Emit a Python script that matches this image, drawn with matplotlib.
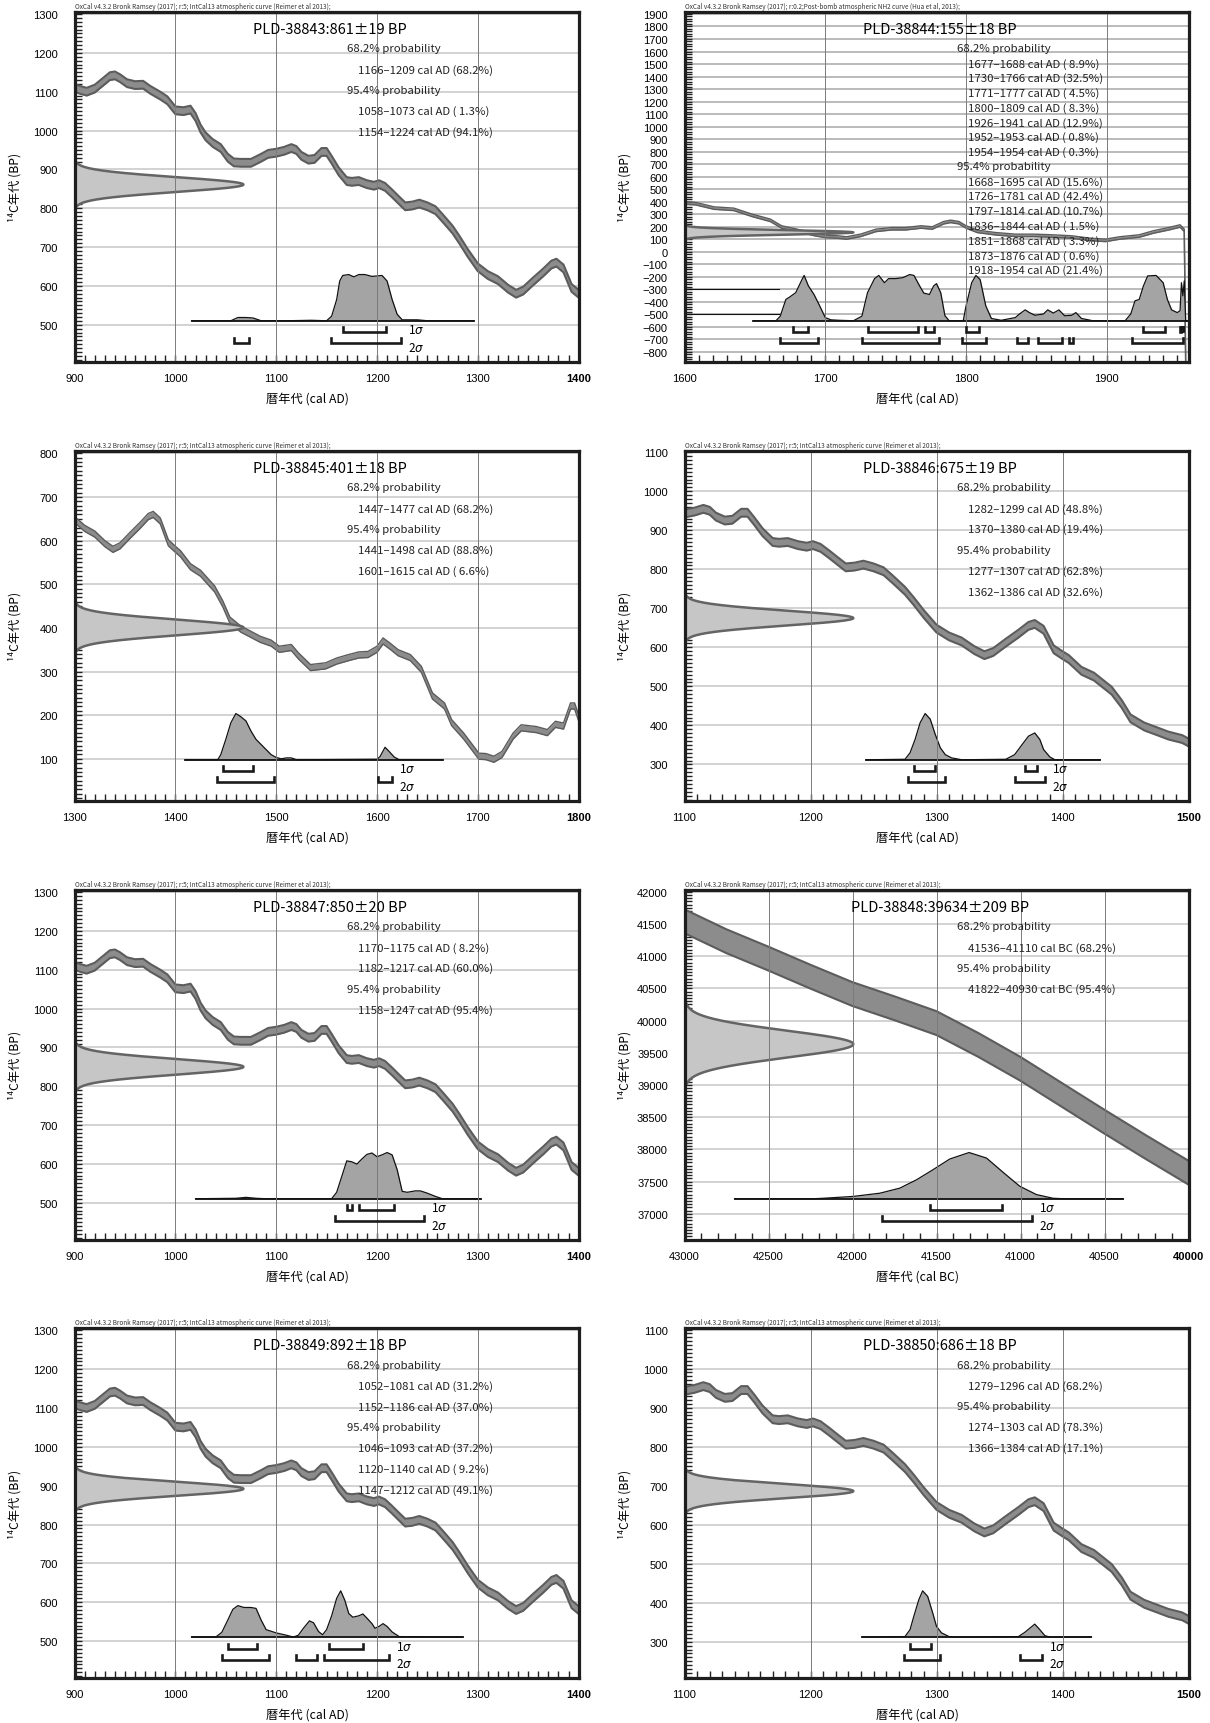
import numpy as np
import matplotlib
matplotlib.use('Agg')
import matplotlib.pyplot as plt

plt.rcParams['font.family'] = ['Noto Sans CJK JP', 'DejaVu Sans']

#Calibration curves (centre values)

#IntCal13, AD 900-1800
intcal_year = [900, 905, 912, 920, 928, 935, 940, 945, 952, 960, 968, 975, 985, 992,
               1000, 1008, 1015, 1020, 1025, 1030, 1037, 1045, 1052, 1058, 1065, 1075,
               1085, 1092, 1100, 1108, 1115, 1120, 1125, 1132, 1138, 1145, 1150, 1155,
               1162, 1170, 1175, 1182, 1190, 1197, 1202, 1208, 1215, 1222, 1228, 1235,
               1242, 1250, 1258, 1265, 1275, 1282, 1290, 1300, 1310, 1320, 1330, 1338,
               1345, 1355, 1365, 1373, 1378, 1385, 1393, 1400, 1405, 1415, 1425, 1439,
               1447, 1454, 1465, 1475, 1484, 1495, 1503, 1515, 1522, 1534, 1549, 1560,
               1572, 1582, 1591, 1600, 1606, 1613, 1621, 1633, 1644, 1655, 1667, 1674,
               1686, 1701, 1708, 1716, 1724, 1735, 1743, 1758, 1769, 1777, 1785, 1792,
               1796, 1800]
intcal_bp = [1110, 1105, 1100, 1108, 1125, 1140, 1142, 1135, 1122, 1117, 1118, 1105, 1090, 1078,
             1052, 1050, 1054, 1035, 1005, 985, 968, 955, 930, 918, 917, 917,
             930, 940, 943, 948, 955, 950, 935, 925, 927, 945, 945, 925,
             895, 870, 868, 870, 862, 858, 862, 855, 838, 820, 805, 807,
             812, 805, 795, 775, 745, 718, 685, 648, 628, 615, 593, 580,
             588, 612, 635, 655, 660, 645, 595, 580, 570, 540, 525, 489,
             455, 418, 397, 385, 374, 365, 351, 355, 336, 309, 313, 324,
             332, 338, 339, 351, 370, 358, 343, 332, 305, 244, 221, 183,
             152, 106, 105, 99, 110, 152, 171, 167, 160, 179, 175, 221,
             221, 194]
intcal_err = 10

#Post-bomb NH2 curve, AD 1600-1958
nh2_year = [1600, 1608, 1621, 1635, 1648, 1661, 1669, 1680, 1693, 1700, 1709, 1715, 1725,
            1736, 1747, 1757, 1768, 1776, 1784, 1789, 1795, 1800, 1808, 1821, 1835, 1848,
            1861, 1875, 1888, 1899, 1909, 1923, 1933, 1944, 1952, 1955, 1956, 1958]
nh2_bp = [392, 384, 349, 339, 291, 251, 198, 171, 136, 123, 118, 110, 131,
          171, 184, 184, 198, 190, 232, 243, 232, 198, 163, 144, 131, 131,
          126, 118, 99, 91, 110, 126, 158, 184, 206, 171, -900, -1200]
nh2_err = 10

#IntCal13, 43000-40000 cal BC
bc_year = [43000, 42750, 42500, 42250, 42000, 41750, 41500, 41250, 41000, 40750, 40500, 40250, 40000]
bc_bp = [41540, 41230, 40960, 40680, 40410, 40190, 39960, 39620, 39250, 38840, 38430, 38030, 37640]
bc_err = 185

HEAD_INTCAL = "OxCal v4.3.2 Bronk Ramsey (2017); r:5; IntCal13 atmospheric curve (Reimer et al 2013);"
HEAD_NH2 = "OxCal v4.3.2 Bronk Ramsey (2017); r:0.2;Post-bomb atmospheric NH2 curve (Hua et al, 2013);"

#Samples : calibrated distributions and ranges

p38843_year = [1016, 1055, 1062, 1070, 1077, 1085, 1110, 1135, 1150, 1155, 1160, 1163, 1166, 1172,
               1177, 1182, 1188, 1195, 1205, 1210, 1215, 1220, 1225, 1240, 1250, 1296]
p38843_prob = [0, 0, 0.07, 0.07, 0.06, 0, 0, 0.01, 0, 0.1, 0.46, 0.86, 0.98, 1.0,
               0.95, 1.0, 1.0, 0.96, 0.98, 0.86, 0.46, 0.14, 0.02, 0.02, 0, 0]
p38843_s1 = [(1166, 1209, 68.2)]
p38843_s2 = [(1058, 1073, 1.3), (1154, 1224, 94.1)]

p38844_year = [1649, 1665, 1668, 1672, 1675, 1679, 1683, 1685, 1688, 1692, 1696, 1700, 1704, 1710,
               1720, 1726, 1730, 1735, 1738, 1742, 1745, 1750, 1755, 1760, 1763, 1767, 1770, 1774,
               1777, 1779, 1782, 1785, 1788, 1798, 1800, 1804, 1807, 1810, 1814, 1818, 1825, 1835,
               1838, 1842, 1845, 1849, 1855, 1858, 1862, 1866, 1870, 1875, 1878, 1882, 1890, 1913,
               1917, 1920, 1923, 1926, 1929, 1935, 1940, 1943, 1946, 1950, 1952, 1953, 1954, 1955,
               1956, 1958]
p38844_prob = [0, 0, 0.1, 0.47, 0.53, 0.62, 0.88, 1.0, 0.77, 0.58, 0.33, 0.07, 0.02, 0.01,
               0, 0.1, 0.62, 0.93, 1.0, 0.84, 0.93, 0.93, 0.95, 1.02, 1.0, 0.77, 0.61, 0.58,
               0.77, 0.82, 0.62, 0.11, 0, 0, 0.33, 0.84, 1.0, 0.91, 0.33, 0.05, 0.01, 0.07,
               0.15, 0.24, 0.18, 0.12, 0.15, 0.24, 0.17, 0.24, 0.11, 0.12, 0.18, 0.05, 0, 0,
               0.15, 0.44, 0.47, 0.77, 0.99, 1.0, 0.84, 0.47, 0.24, 0.18, 0.22, 0.84, 0.55, 0.88,
               0, 0]
p38844_s1 = [(1677, 1688, 8.9), (1730, 1766, 32.5), (1771, 1777, 4.5), (1800, 1809, 8.3),
             (1926, 1941, 12.9), (1952, 1953, 0.8), (1954, 1954, 0.3)]
p38844_s2 = [(1668, 1695, 15.6), (1726, 1781, 42.4), (1797, 1814, 10.7), (1836, 1844, 1.5),
             (1851, 1868, 3.3), (1873, 1876, 0.6), (1918, 1954, 21.4)]

p38845_year = [1410, 1442, 1445, 1450, 1455, 1460, 1465, 1470, 1475, 1480, 1485, 1490, 1495, 1500,
               1505, 1510, 1515, 1520, 1600, 1603, 1608, 1612, 1617, 1622, 1665]
p38845_prob = [0, 0, 0.11, 0.44, 0.8, 1.0, 0.93, 0.84, 0.62, 0.44, 0.33, 0.22, 0.11, 0.05,
               0.02, 0.04, 0.04, 0, 0.01, 0.07, 0.27, 0.18, 0.06, 0, 0]
p38845_s1 = [(1447, 1477, 68.2)]
p38845_s2 = [(1441, 1498, 88.8), (1601, 1615, 6.6)]

p38846_year = [1244, 1275, 1279, 1283, 1287, 1291, 1295, 1299, 1303, 1307, 1312, 1320,
               1355, 1362, 1368, 1373, 1378, 1382, 1385, 1390, 1394, 1430]
p38846_prob = [0, 0.01, 0.15, 0.44, 0.8, 1.0, 0.88, 0.55, 0.26, 0.11, 0.04, 0,
               0.01, 0.11, 0.33, 0.51, 0.58, 0.44, 0.22, 0.06, 0, 0]
p38846_s1 = [(1282, 1299, 48.8), (1370, 1380, 19.4)]
p38846_s2 = [(1277, 1307, 62.8), (1362, 1386, 32.6)]

p38847_year = [1020, 1060, 1070, 1080, 1090, 1155, 1160, 1165, 1170, 1175, 1180, 1185, 1190, 1195,
               1200, 1205, 1210, 1215, 1220, 1225, 1230, 1238, 1243, 1250, 1258, 1265, 1303]
p38847_prob = [0, 0.01, 0.03, 0.01, 0, 0, 0.14, 0.48, 0.82, 0.8, 0.75, 0.86, 0.96, 0.99,
               0.91, 0.95, 1.0, 0.95, 0.63, 0.16, 0.14, 0.17, 0.17, 0.12, 0.05, 0, 0]
p38847_s1 = [(1170, 1175, 8.2), (1182, 1217, 60.0)]
p38847_s2 = [(1158, 1247, 95.4)]

p38848_year = [42702, 42234, 42175, 41996, 41837, 41718, 41619, 41520, 41421, 41306,
               41202, 41103, 41004, 40905, 40806, 40740, 40388]
p38848_prob = [0, 0, 0.01, 0.05, 0.12, 0.23, 0.41, 0.63, 0.86, 1.0,
               0.88, 0.57, 0.27, 0.09, 0.01, 0, 0]
p38848_s1 = [(41536, 41110, 68.2)]
p38848_s2 = [(41822, 40930, 95.4)]

p38849_year = [1016, 1040, 1046, 1052, 1057, 1062, 1068, 1075, 1080, 1085, 1090, 1100, 1110, 1117,
               1122, 1127, 1133, 1137, 1142, 1146, 1150, 1155, 1160, 1164, 1168, 1172, 1176, 1182,
               1186, 1190, 1195, 1198, 1202, 1206, 1210, 1215, 1222, 1285]
p38849_prob = [0, 0, 0.1, 0.37, 0.6, 0.68, 0.64, 0.64, 0.62, 0.37, 0.16, 0.09, 0.04, 0,
               0.04, 0.19, 0.35, 0.31, 0.12, 0.05, 0.16, 0.46, 0.84, 1.0, 0.8, 0.51, 0.43, 0.46,
               0.5, 0.41, 0.29, 0.19, 0.23, 0.29, 0.23, 0.11, 0.01, 0]
p38849_s1 = [(1052, 1081, 31.2), (1152, 1186, 37.0)]
p38849_s2 = [(1046, 1093, 37.2), (1120, 1140, 9.2), (1147, 1212, 49.1)]

p38850_year = [1241, 1275, 1279, 1282, 1286, 1289, 1293, 1297, 1300, 1304, 1310, 1315,
               1365, 1370, 1374, 1378, 1382, 1386, 1390, 1423]
p38850_prob = [0, 0.01, 0.16, 0.45, 0.81, 1.0, 0.88, 0.52, 0.23, 0.09, 0.01, 0,
               0.01, 0.1, 0.19, 0.28, 0.16, 0.03, 0, 0]
p38850_s1 = [(1279, 1296, 68.2)]
p38850_s2 = [(1274, 1303, 78.3), (1366, 1384, 17.1)]

#Panel options built from the arrays above
panels = [
    dict(name='PLD-38843', bp=861, err=19, curve=(intcal_year, intcal_bp, intcal_err), head=HEAD_INTCAL,
         xlim=(900, 1400), ylim=(405, 1306), xstep=(100, 10), ystep=(100, 10), unit='AD',
         dist=(p38843_year, p38843_prob), s1=p38843_s1, s2=p38843_s2),
    dict(name='PLD-38844', bp=155, err=18, curve=(nh2_year, nh2_bp, nh2_err), head=HEAD_NH2,
         xlim=(1600, 1958), ylim=(-878, 1918), xstep=(100, 10), ystep=(100, 20), unit='AD',
         dist=(p38844_year, p38844_prob), s1=p38844_s1, s2=p38844_s2),
    dict(name='PLD-38845', bp=401, err=18, curve=(intcal_year, intcal_bp, 7), head=HEAD_INTCAL,
         xlim=(1300, 1800), ylim=(4, 806), xstep=(100, 10), ystep=(100, 10), unit='AD',
         dist=(p38845_year, p38845_prob), s1=p38845_s1, s2=p38845_s2),
    dict(name='PLD-38846', bp=675, err=19, curve=(intcal_year, intcal_bp, intcal_err), head=HEAD_INTCAL,
         xlim=(1100, 1500), ylim=(207, 1104), xstep=(100, 10), ystep=(100, 10), unit='AD',
         dist=(p38846_year, p38846_prob), s1=p38846_s1, s2=p38846_s2),
    dict(name='PLD-38847', bp=850, err=20, curve=(intcal_year, intcal_bp, intcal_err), head=HEAD_INTCAL,
         xlim=(900, 1400), ylim=(405, 1306), xstep=(100, 10), ystep=(100, 10), unit='AD',
         dist=(p38847_year, p38847_prob), s1=p38847_s1, s2=p38847_s2),
    dict(name='PLD-38848', bp=39634, err=209, curve=(bc_year, bc_bp, bc_err), head=HEAD_INTCAL,
         xlim=(43000, 40000), ylim=(36600, 42030), xstep=(500, 100), ystep=(500, 50), unit='BC',
         dist=(p38848_year, p38848_prob), s1=p38848_s1, s2=p38848_s2),
    dict(name='PLD-38849', bp=892, err=18, curve=(intcal_year, intcal_bp, intcal_err), head=HEAD_INTCAL,
         xlim=(900, 1400), ylim=(405, 1306), xstep=(100, 10), ystep=(100, 10), unit='AD',
         dist=(p38849_year, p38849_prob), s1=p38849_s1, s2=p38849_s2),
    dict(name='PLD-38850', bp=686, err=18, curve=(intcal_year, intcal_bp, intcal_err), head=HEAD_INTCAL,
         xlim=(1100, 1500), ylim=(207, 1104), xstep=(100, 10), ystep=(100, 10), unit='AD',
         dist=(p38850_year, p38850_prob), s1=p38850_s1, s2=p38850_s2),
]

W, H = 1210, 1724
fig = plt.figure(figsize=(W / 100, H / 100), dpi=100)

col_left = [74.6, 684.5]
row_top = [12.7, 451.7, 890.7, 1329.0]
ax_w, ax_h = 504, 350

BASE = 0.117      # baseline of the calibrated distribution (axes fraction)
PEAK = 0.132      # height of its highest point
Y1S, Y2S, TICK = 0.084, 0.0526, 0.0143


def ticks_in(lo, hi, step):
    a, b = min(lo, hi), max(lo, hi)
    start = np.ceil(a / step) * step
    return [int(v) for v in np.arange(start, b + 0.001, step)]


def draw_panel(ax, p):
    x0, x1 = p['xlim']
    y0, y1 = p['ylim']
    xt = ax.get_xaxis_transform()
    yt = ax.get_yaxis_transform()

    xmaj = ticks_in(x0, x1, p['xstep'][0])
    ymaj = ticks_in(y0, y1, p['ystep'][0])
    if x0 > x1:
        xmaj = xmaj[::-1]

    #grid : light horizontal lines below, darker vertical lines on top
    hcol = '#a8a8a8' if p['name'] == 'PLD-38844' else '#c6c6c6'
    for y in ymaj:
        if y0 < y < y1:
            ax.axhline(y, color=hcol, lw=1.1, zorder=0.5)
    for x in xmaj:
        if min(x0, x1) < x < max(x0, x1):
            ax.axvline(x, color='#7a7a7a', lw=0.7, zorder=4)

    #calibration curve band
    cx, cy, ce = p['curve']
    cy = np.array(cy, dtype=float)
    lw_edge = 1.0 if p['name'] in ('PLD-38844', 'PLD-38845') else 1.5
    ax.fill_between(cx, cy - ce, cy + ce, color='#8c8c8c', lw=0, zorder=2)
    ax.plot(cx, cy + ce, color='#5c5c5c', lw=lw_edge, zorder=2.1)
    ax.plot(cx, cy - ce, color='#5c5c5c', lw=lw_edge, zorder=2.1)

    #radiocarbon date (normal distribution on the y axis)
    mu, sd = p['bp'], p['err']
    yy = np.linspace(mu - 3.2 * sd, mu + 3.2 * sd, 300)
    ww = 0.335 * np.exp(-0.5 * ((yy - mu) / sd) ** 2)
    ax.fill_betweenx(yy, 0, ww, transform=yt, color='#c6c6c6', lw=0, zorder=3)
    ax.plot(ww, yy, transform=yt, color='#646464', lw=1.8, zorder=3.1)

    #calibrated date distribution
    dx, dp = p['dist']
    dp = np.array(dp, dtype=float)
    ys = BASE + PEAK * dp / dp.max()
    ax.fill_between(dx, BASE, ys, transform=xt, color='#a4a4a4', lw=0, zorder=3)
    ax.plot(dx, ys, transform=xt, color='#111111', lw=0.9, zorder=3.2)
    ax.plot([dx[0], dx[-1]], [BASE, BASE], transform=xt, color='#111111', lw=1.3, zorder=3.2)
    if p['name'] == 'PLD-38844':
        ax.plot([x0, 1667], [-300, -300], color='#111111', lw=0.8, zorder=3.2)
        ax.plot([x0, 1667], [-500, -500], color='#111111', lw=0.8, zorder=3.2)

    #1 sigma / 2 sigma brackets
    ends = []
    for rng, yb in ((p['s1'], Y1S), (p['s2'], Y2S)):
        for a, b, _ in rng:
            ax.plot([a, a, b, b], [yb + TICK, yb, yb, yb + TICK], transform=xt,
                    color='#1a1a1a', lw=1.9, solid_joinstyle='miter', zorder=6, clip_on=False)
            ends += [a, b]
    if p['name'] != 'PLD-38844':
        xe = min(ends) if x0 > x1 else max(ends)
        ax.annotate('1$\\sigma$', xy=(xe, 0.091), xycoords=xt, xytext=(5, 0),
                    textcoords='offset points', va='center', ha='left', fontsize=8.5, zorder=7)
        ax.annotate('2$\\sigma$', xy=(xe, 0.041), xycoords=xt, xytext=(5, 0),
                    textcoords='offset points', va='center', ha='left', fontsize=8.5, zorder=7)

    #texts
    ax.text(0.507, 0.951, f"{p['name']}:{mu}±{sd} BP", transform=ax.transAxes,
            ha='center', va='center', fontsize=10.5, zorder=8)
    lines = [('68.2% probability', 0)]
    for a, b, pc in p['s1']:
        lines.append((f"{a}–{b} cal {p['unit']} ({pc:4.1f}%)", 1))
    lines.append(('95.4% probability', 0))
    for a, b, pc in p['s2']:
        lines.append((f"{a}–{b} cal {p['unit']} ({pc:4.1f}%)", 1))
    sp = 0.0422 if len(lines) > 8 else 0.0594
    for i, (txt, ind) in enumerate(lines):
        ax.text(0.5625 if ind else 0.54, 1 - 0.1046 - i * sp, txt,
                transform=ax.transAxes, va='center', ha='left', fontsize=8.2,
                color='#222222', zorder=8)
    ax.text(0.001, 1.006, p['head'], transform=ax.transAxes, va='bottom', ha='left',
            fontsize=4.6, color='#333333')
    ax.text(0.462, -0.104, f"暦年代 (cal {p['unit']})", transform=ax.transAxes,
            ha='center', va='center', fontsize=8.8)
    ax.text(-0.118, 0.5, '¹⁴C年代 (BP)', transform=ax.transAxes, rotation=90,
            ha='center', va='center', fontsize=8.8)

    #axes, ticks
    ax.set_xlim(x0, x1)
    ax.set_ylim(y0, y1)
    ax.set_xticks(xmaj, [str(v) for v in xmaj])
    ax.set_xticks(ticks_in(x0, x1, p['xstep'][1]), minor=True)
    ax.set_yticks(ymaj, [str(v).replace('-', '−') for v in ymaj])
    ax.set_yticks(ticks_in(y0, y1, p['ystep'][1]), minor=True)
    ax.tick_params(axis='both', which='both', direction='in', length=5, width=1.0,
                   color='#222222', top=False, right=False, labelsize=8,
                   labelfontfamily=['Liberation Sans', 'DejaVu Sans'])
    ax.tick_params(axis='x', pad=8)
    ax.tick_params(axis='y', pad=12)
    if xmaj[-1] == x1:
        ax.get_xticklabels()[-1].set_fontweight('bold')
    for s in ax.spines.values():
        s.set_linewidth(2.3)
        s.set_color('#1e1e1e')
        s.set_zorder(10)


for i, p in enumerate(panels):
    r, c = divmod(i, 2)
    left = col_left[c] / W
    bottom = 1 - (row_top[r] + ax_h) / H
    ax = fig.add_axes([left, bottom, ax_w / W, ax_h / H])
    draw_panel(ax, p)

plt.savefig('out.png', dpi=100)
